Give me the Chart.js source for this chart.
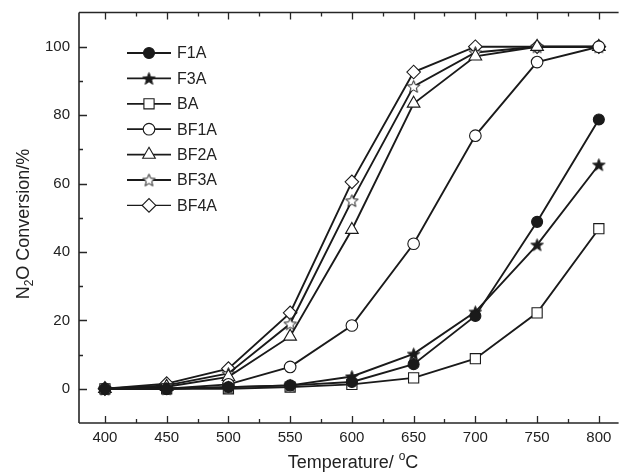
<!DOCTYPE html>
<html>
<head>
<meta charset="utf-8">
<script src="https://cdn.jsdelivr.net/npm/chart.js@4/dist/chart.umd.min.js"></script>
<style>
  html, body { margin: 0; padding: 0; background: #fff; }
  #wrap { width: 627px; height: 473px; }
</style>
</head>
<body>
<div id="wrap"><canvas id="c" width="627" height="473"></canvas></div>
<script>
// Reaction temperature (°C)
const temperatures = [400, 450, 500, 550, 600, 650, 700, 750, 800];

// N2O conversion (%) per catalyst
const seriesNames = ['F1A', 'F3A', 'BA', 'BF1A', 'BF2A', 'BF3A', 'BF4A'];
const f1a  = [0, 0,   0.5, 1.0,  2.0,  7.2, 21.3, 48.8, 78.7];
const f3a  = [0, 0,   0.5, 1.0,  3.6, 10.2, 22.5, 42.1, 65.5];
const ba   = [0, 0,   0,   0.5,  1.3,  3.2,  8.8, 22.2, 46.8];
const bf1a = [0, 0,   1.3, 6.4, 18.5, 42.4, 74.0, 95.5, 100];
const bf2a = [0, 0.6, 3.5, 15.3, 46.5, 83.4, 97.2, 100, 100];
const bf3a = [0, 1.0, 4.5, 19.0, 55.0, 88.4, 98.3, 100, 100];
const bf4a = [0, 1.5, 5.9, 22.2, 60.5, 92.6, 100, 100, 100];

// Axis ticks
const xMajorTicks = [400, 450, 500, 550, 600, 650, 700, 750, 800];
const xMinorTicks = [425, 475, 525, 575, 625, 675, 725, 775];
const yMajorTicks = [0, 20, 40, 60, 80, 100];
const yMinorTicks = [10, 30, 50, 70, 90];

const INK = '#1a1a1a';
const AXIS = '#262626';
const FONT = '"Liberation Sans", Arial, sans-serif';

// Five-pointed star marker, drawn once into a small canvas
function makeStar(filled, outer, inner) {
  const s = Math.ceil(outer * 2 + 4);
  const cv = document.createElement('canvas');
  cv.width = s; cv.height = s;
  const g = cv.getContext('2d');
  const c = s / 2;
  g.beginPath();
  for (let i = 0; i < 10; i++) {
    const r = i % 2 === 0 ? outer : inner;
    const a = -Math.PI / 2 + i * Math.PI / 5;
    const px = c + r * Math.cos(a), py = c + r * Math.sin(a) + 0.6;
    if (i === 0) g.moveTo(px, py); else g.lineTo(px, py);
  }
  g.closePath();
  g.fillStyle = filled ? INK : '#ffffff';
  g.fill();
  g.lineWidth = 1;
  g.strokeStyle = INK;
  g.stroke();
  return cv;
}
const starFilled = makeStar(true, 6.5, 2.7);
const starOpen = makeStar(false, 6.5, 2.9);

const markerStyles = [
  { pointStyle: 'circle',   radius: 5.5, fill: INK },
  { pointStyle: starFilled, radius: 6,   fill: INK },
  { pointStyle: 'rect',     radius: 7.2, fill: '#fff' },
  { pointStyle: 'circle',   radius: 5.8, fill: '#fff' },
  { pointStyle: 'triangle', radius: 7.3, fill: '#fff' },
  { pointStyle: starOpen,   radius: 6,   fill: '#fff' },
  { pointStyle: 'rectRot',  radius: 6.8, fill: '#fff' }
];
const legendLineWidths = [2, 1.8, 1.8, 1.8, 1.8, 2, 1.1];

const seriesValues = [f1a, f3a, ba, bf1a, bf2a, bf3a, bf4a];

const datasets = seriesNames.map((name, i) => ({
  label: name,
  data: temperatures.map((t, k) => ({ x: t, y: seriesValues[i][k] })),
  borderColor: INK,
  borderWidth: 1.9,
  backgroundColor: markerStyles[i].fill,
  pointStyle: markerStyles[i].pointStyle,
  pointRadius: markerStyles[i].radius,
  pointBorderColor: INK,
  pointBackgroundColor: markerStyles[i].fill,
  pointBorderWidth: 1.1,
  tension: 0,
  fill: false,
  clip: false
}));

// Frame, inward ticks, axis titles and the legend
const decorations = {
  id: 'decorations',
  afterDatasetsDraw(chart) {
    const { ctx, chartArea: a, scales: { x, y } } = chart;
    ctx.save();
    ctx.strokeStyle = AXIS;
    ctx.lineWidth = 1.6;
    ctx.beginPath();
    ctx.moveTo(a.left, a.top); ctx.lineTo(a.right, a.top);
    ctx.moveTo(a.left, a.top); ctx.lineTo(a.left, a.bottom);
    ctx.moveTo(a.left, a.bottom); ctx.lineTo(a.right, a.bottom);
    ctx.stroke();

    ctx.lineWidth = 1.3;
    ctx.beginPath();
    xMajorTicks.forEach(v => {
      const px = Math.round(x.getPixelForValue(v)) + 0.5;
      ctx.moveTo(px, a.bottom); ctx.lineTo(px, a.bottom - 7);
      ctx.moveTo(px, a.top); ctx.lineTo(px, a.top + 7);
    });
    xMinorTicks.forEach(v => {
      const px = Math.round(x.getPixelForValue(v)) + 0.5;
      ctx.moveTo(px, a.bottom); ctx.lineTo(px, a.bottom - 4);
      ctx.moveTo(px, a.top); ctx.lineTo(px, a.top + 4);
    });
    yMajorTicks.forEach(v => {
      const py = Math.round(y.getPixelForValue(v)) + 0.5;
      ctx.moveTo(a.left, py); ctx.lineTo(a.left + 8, py);
    });
    yMinorTicks.forEach(v => {
      const py = Math.round(y.getPixelForValue(v)) + 0.5;
      ctx.moveTo(a.left, py); ctx.lineTo(a.left + 4, py);
    });
    ctx.stroke();

    // Axis titles with sub/superscripts
    ctx.fillStyle = '#222';
    ctx.textBaseline = 'alphabetic';
    const big = '18px ' + FONT, small = '12px ' + FONT;

    // x title: Temperature/ °C
    ctx.font = big;
    const p1 = 'Temperature/ ';
    const w1 = ctx.measureText(p1).width;
    const w3 = ctx.measureText('C').width;
    ctx.font = small;
    const w2 = ctx.measureText('o').width;
    const sx = 353 - (w1 + w2 + w3) / 2;
    const by = 468;
    ctx.font = big; ctx.fillText(p1, sx, by);
    ctx.font = small; ctx.fillText('o', sx + w1, by - 8);
    ctx.font = big; ctx.fillText('C', sx + w1 + w2, by);

    // y title: N2O Conversion/%
    ctx.save();
    ctx.translate(29, 224);
    ctx.rotate(-Math.PI / 2);
    ctx.font = big;
    const q1 = 'N', q3 = 'O Conversion/%';
    const v1 = ctx.measureText(q1).width, v3 = ctx.measureText(q3).width;
    ctx.font = small;
    const v2 = ctx.measureText('2').width;
    const ty = -(v1 + v2 + v3) / 2;
    ctx.font = big; ctx.fillText(q1, ty, 0);
    ctx.font = small; ctx.fillText('2', ty + v1, 4);
    ctx.font = big; ctx.fillText(q3, ty + v1 + v2, 0);
    ctx.restore();

    // Legend: line segment with marker, then label
    const lx0 = 127, lx1 = 171, lmx = 149, ltx = 177;
    ctx.font = '16px ' + FONT;
    ctx.textBaseline = 'middle';
    chart.data.datasets.forEach((ds, i) => {
      const ry = 53 + i * 25.4;
      ctx.strokeStyle = INK;
      ctx.lineWidth = legendLineWidths[i];
      ctx.beginPath();
      ctx.moveTo(lx0, ry); ctx.lineTo(lx1, ry);
      ctx.stroke();
      ctx.fillStyle = ds.pointBackgroundColor;
      ctx.strokeStyle = INK;
      ctx.lineWidth = 1.1;
      Chart.helpers.drawPoint(ctx, {
        pointStyle: ds.pointStyle,
        radius: ds.pointRadius,
        borderWidth: 1.1,
        rotation: 0
      }, lmx, ry);
      ctx.fillStyle = '#222';
      ctx.fillText(ds.label, ltx, ry + 1);
    });
    ctx.restore();
  }
};

new Chart(document.getElementById('c'), {
  type: 'line',
  data: { datasets },
  options: {
    responsive: false,
    animation: false,
    events: [],
    layout: { padding: { top: 12.5, right: 0, left: 0, bottom: 0 } },
    plugins: { legend: { display: false }, tooltip: { enabled: false } },
    scales: {
      x: {
        type: 'linear',
        min: 379,
        max: 816,
        grid: { display: false, drawTicks: false },
        border: { display: false },
        afterBuildTicks: s => { s.ticks = xMajorTicks.map(v => ({ value: v })); },
        afterFit: s => { s.height = 50; s.paddingLeft = 0; s.paddingRight = 0; },
        ticks: {
          color: '#222',
          padding: 6,
          maxRotation: 0,
          font: { family: FONT, size: 15 }
        }
      },
      y: {
        type: 'linear',
        min: -10,
        max: 110,
        grid: { display: false, drawTicks: false },
        border: { display: false },
        afterBuildTicks: s => { s.ticks = yMajorTicks.map(v => ({ value: v })); },
        afterFit: s => { s.width = 79; s.paddingTop = 0; s.paddingBottom = 0; },
        ticks: {
          color: '#222',
          padding: 9,
          font: { family: FONT, size: 15 }
        }
      }
    }
  },
  plugins: [decorations]
});
</script>
</body>
</html>
